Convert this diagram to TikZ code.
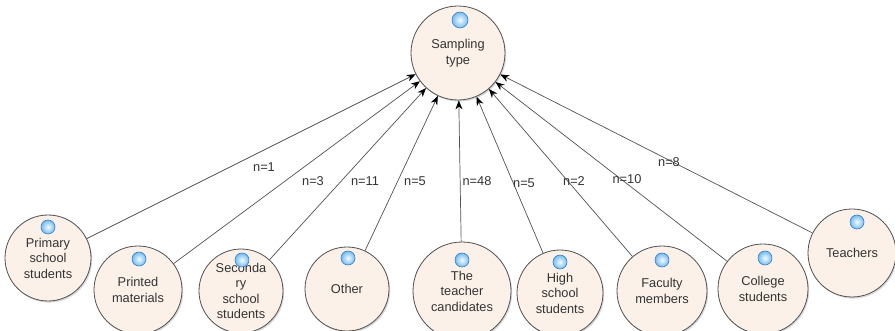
\documentclass[tikz,border=0pt]{standalone}
\usepackage{fontspec}
\setmainfont{Liberation Sans}
\usetikzlibrary{arrows.meta,shadows,calc}
\definecolor{nodefill}{HTML}{FBF1E9}
\definecolor{nodeline}{HTML}{505050}
\definecolor{txt}{HTML}{333333}
\definecolor{ballin}{HTML}{F4FBFF}
\definecolor{ballout}{HTML}{74BDF0}
\definecolor{ballrim}{HTML}{3A7FC4}
\begin{document}
\begin{tikzpicture}[x=1pt,y=-1pt,
  concept/.style={circle, draw=nodeline, line width=0.8pt, fill=nodefill,
    inner sep=0pt, minimum size=88pt, align=center, text=txt,
    font=\fontsize{12.8}{15.5}\selectfont,
    drop shadow={shadow xshift=1.2pt, shadow yshift=-1.6pt, opacity=0.25, fill=black!60}},
  conn/.style={draw=black!68, line width=0.7pt, -{Stealth[length=9pt,width=7pt,color=black]}},
  lbl/.style={text=txt, font=\fontsize{12.8}{14}\selectfont, inner sep=0pt},
  knob/.style={inner color=ballin, outer color=ballout, draw=ballrim, line width=0.6pt}]

\useasboundingbox (0,0) rectangle (895,331);

\node[concept, minimum size=94pt] (top) at (458,53) {Sampling\\type};
\node[concept, minimum size=86pt] (primary) at (48,258) {Primary\\school\\students};
\node[concept] (printed) at (138,290) {Printed\\materials};
\node[concept, minimum size=84pt] (secondary) at (241,291) {Seconda\\ry\\school\\students};
\node[concept, minimum size=84pt] (other) at (347,289) {Other};
\node[concept, minimum size=98pt] (cand) at (462,291) {The\\teacher\\candidates};
\node[concept, minimum size=86pt] (high) at (560,293) {High\\school\\students};
\node[concept, minimum size=90pt] (faculty) at (662,291) {Faculty\\members};
\node[concept, minimum size=90pt] (college) at (763,289) {College\\students};
\node[concept] (teachers) at (852,253) {Teachers};

\shade[knob] ($(top.center)+(2,-33)$) circle (8);
\foreach \n/\dx in {primary/0,printed/1,secondary/1,other/1,cand/0,high/0,faculty/0,college/2,teachers/5}{
  \shade[knob] ($(\n.center)+(\dx,-31)$) circle (7);
}

\draw[conn] (primary) -- (top);
\draw[conn] (printed) -- (top);
\draw[conn] (secondary) -- (top);
\draw[conn] (other) -- (top);
\draw[conn] (cand) -- (top);
\draw[conn] (high) -- (top);
\draw[conn] (faculty) -- (top);
\draw[conn] (college) -- (top);
\draw[conn] (teachers) -- (top);

\node[lbl] (l1) at (264,167) {n=1};
\node[lbl] (l2) at (313,181) {n=3};
\node[lbl] (l3) at (365,181) {n=11};
\node[lbl] (l4) at (415,181) {n=5};
\node[lbl] (l5) at (477,181) {n=48};
\node[lbl] (l6) at (524,183) {n=5};
\node[lbl] (l7) at (574,181) {n=2};
\node[lbl] (l8) at (627,179) {n=10};
\node[lbl] (l9) at (669,162) {n=8};
\end{tikzpicture}
\end{document}
